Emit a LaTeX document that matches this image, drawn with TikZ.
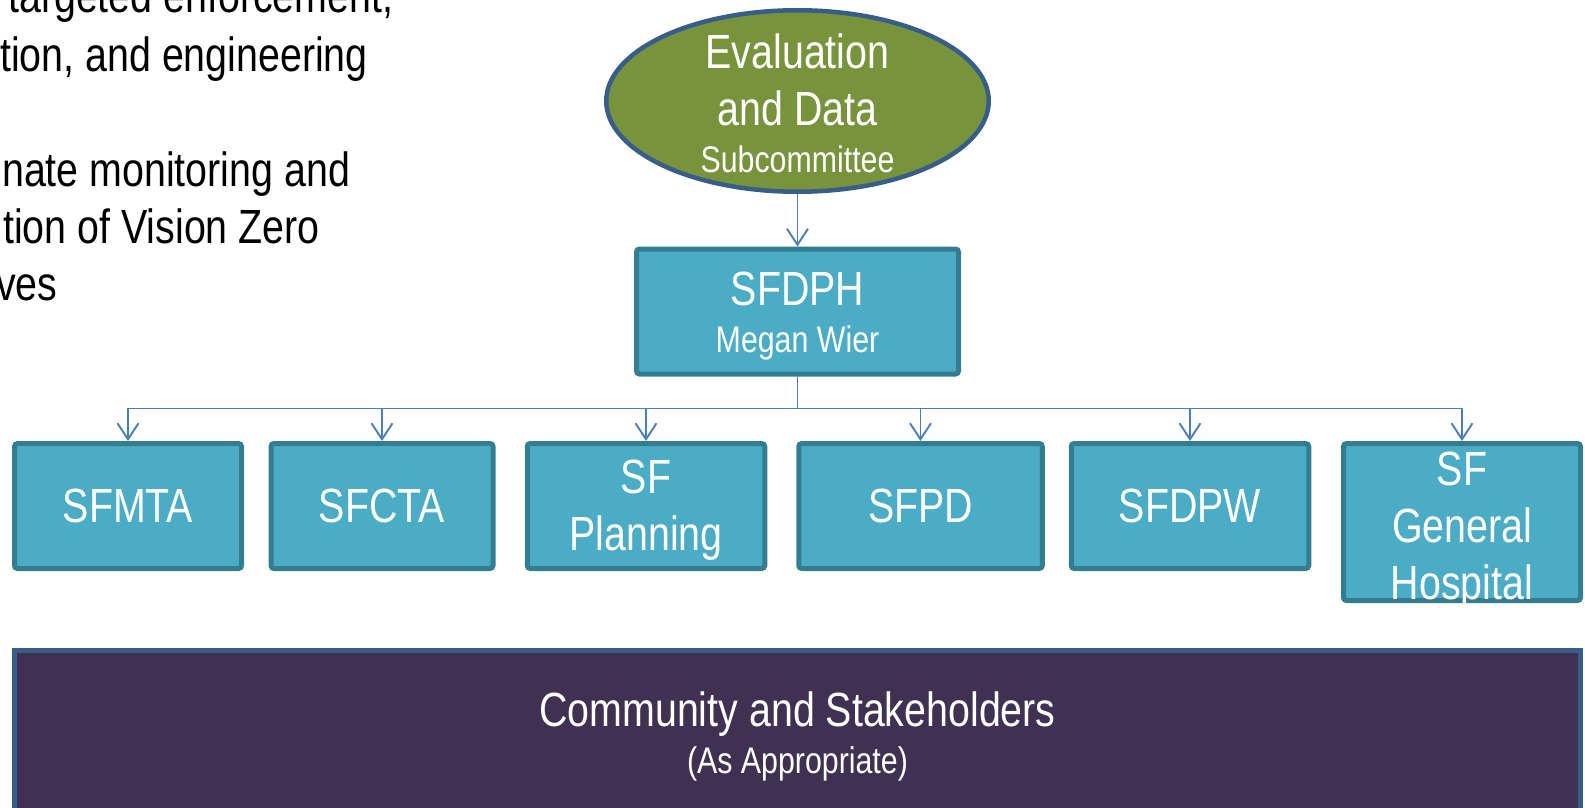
\documentclass[tikz,border=0pt]{standalone}
\usepackage{fontspec}
\setmainfont{Liberation Sans}[FakeStretch=0.82]
\usetikzlibrary{shapes.geometric, arrows.meta, positioning}

\definecolor{boxfill}{HTML}{4BACC6}
\definecolor{boxline}{HTML}{347C90}
\definecolor{evalfill}{HTML}{77933C}
\definecolor{evalline}{HTML}{385D8A}
\definecolor{commfill}{HTML}{403152}
\definecolor{commline}{HTML}{385D8A}
\definecolor{linkblue}{HTML}{4A7EBB}

\newcommand{\bigf}{\fontsize{48}{0}\selectfont}
\newcommand{\smallf}{\fontsize{37}{0}\selectfont}
\newcommand{\strutbig}{\rule[-12.5pt]{0pt}{57pt}}
\newcommand{\strutsmall}{\rule[-9.6pt]{0pt}{44pt}}
\setlength{\lineskip}{0pt}
\setlength{\lineskiplimit}{0pt}

\tikzset{
  agency/.style={draw=boxline, fill=boxfill, line width=5pt, rounded corners=3pt,
    minimum height=125pt, inner sep=0pt, text=white, font=\bigf, align=center},
  boxtext/.style={inner sep=0pt, text=white, font=\bigf, align=center},
  evalshape/.style={ellipse, draw=evalline, fill=evalfill, line width=4.5pt,
    minimum width=382.5pt, minimum height=181.5pt, inner sep=0pt},
  commbox/.style={draw=commline, fill=commfill, line width=5pt,
    minimum width=1566pt, minimum height=164.5pt, inner sep=0pt,
    text=white, font=\bigf, align=center},
  bodytext/.style={inner sep=0pt, font=\bigf, anchor=base west},
  link/.style={draw=linkblue, line width=1.9pt,
    -{Straight Barb[length=16pt, width=21pt, line width=1.9pt]}}
}

\begin{document}
\begin{tikzpicture}[x=1pt, y=-1pt]
\clip (0,0) rectangle (1585,808);

% text cut off at the left edge
\node[bodytext] (aim1) at (8,13) {targeted enforcement,};
\node[bodytext] (aim2) at (0,71) {tion, and engineering};
\node[bodytext] (aim3) at (2,186) {nate monitoring and};
\node[bodytext] (aim4) at (3,243) {tion of Vision Zero};
\node[bodytext] (aim5) at (-4,300) {ves};

% subcommittee and lead
\node[evalshape] (eval) at (797.5,101) {};
\node[boxtext] (evaltext) at ([yshift=-2pt]eval.center)
  {\strutbig Evaluation\\\strutbig and Data\\\smallf\strutsmall Subcommittee};
\node[agency, minimum width=322pt] (sfdph) at (797.5,311.5)
  {\strutbig SFDPH\\\smallf\strutsmall Megan Wier};

% agencies
\node[agency, minimum width=227pt] (sfmta) at (128,506) {\strutbig SFMTA};
\node[agency, minimum width=222pt] (sfcta) at (382,506) {\strutbig SFCTA};
\node[agency, minimum width=237.5pt] (sfplan) at (646,506) {\strutbig SF\\\strutbig Planning};
\node[agency, minimum width=243.5pt] (sfpd) at (920.5,506) {\strutbig SFPD};
\node[agency, minimum width=237.5pt] (sfdpw) at (1190,506) {\strutbig SFDPW};
\node[agency, minimum width=237pt, minimum height=157pt] (sfgh) at (1462,522) {};
\node[boxtext] (sfghtext) at ([yshift=-4pt]sfgh.center)
  {\strutbig SF\\\strutbig General\\\strutbig Hospital};

% community
\node[commbox] (comm) at (797.5,732.75)
  {\strutbig Community and Stakeholders\\\smallf\strutsmall (As Appropriate)};

% connectors
\draw[link] (eval.south) -- (sfdph.north);
\foreach \n in {sfmta,sfcta,sfplan,sfpd,sfdpw,sfgh}
{
    \draw[link] (sfdph.south) -- ++(0,32) -| (\n.north);
}

\end{tikzpicture}
\end{document}
